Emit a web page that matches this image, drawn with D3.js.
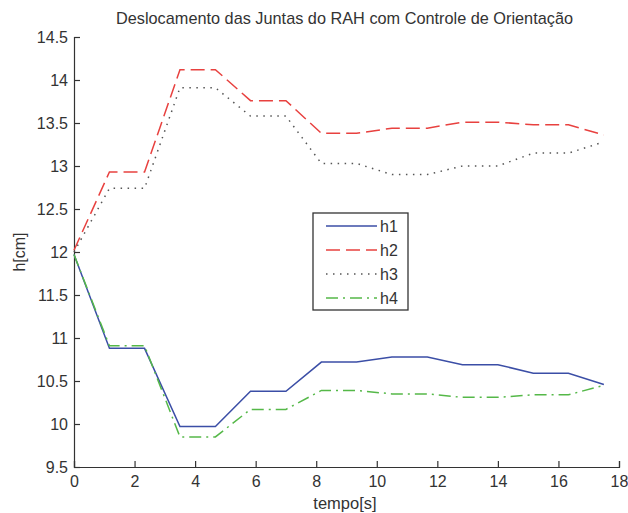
<!DOCTYPE html>
<html>
<head>
<meta charset="utf-8">
<script src="https://cdn.jsdelivr.net/npm/d3@7"></script>
<style>
  body { margin: 0; background: #fff; }
  text { font-family: "Liberation Sans", Arial, sans-serif; fill: #333; }
</style>
</head>
<body>
<div id="chart"></div>
<script>
// time samples (s), one every 7/6 s
var tempo = [0, 1.17, 2.33, 3.5, 4.67, 5.83, 7.0, 8.17, 9.33, 10.5, 11.67, 12.83, 14.0, 15.17, 16.33, 17.5];
var h1 = [11.97, 10.88, 10.88, 9.97, 9.97, 10.38, 10.38, 10.72, 10.72, 10.78, 10.78, 10.69, 10.69, 10.59, 10.59, 10.46];
var h2 = [12.02, 12.93, 12.93, 14.12, 14.12, 13.76, 13.76, 13.38, 13.38, 13.44, 13.44, 13.51, 13.51, 13.48, 13.48, 13.36];
var h3 = [12.0, 12.74, 12.74, 13.91, 13.91, 13.58, 13.58, 13.03, 13.03, 12.90, 12.90, 13.0, 13.0, 13.15, 13.15, 13.28];
var h4 = [11.97, 10.91, 10.91, 9.85, 9.85, 10.17, 10.17, 10.39, 10.39, 10.35, 10.35, 10.31, 10.31, 10.34, 10.34, 10.45];
var names = ["h1", "h2", "h3", "h4"];
var xTicks = [0, 2, 4, 6, 8, 10, 12, 14, 16, 18];
var yTicks = [9.5, 10, 10.5, 11, 11.5, 12, 12.5, 13, 13.5, 14, 14.5];

var series = [h1, h2, h3, h4];
var colors = ["#3b4ea6", "#e8413f", "#555555", "#55b848"];
var dashes = [null, "14,6", "1.5,5.5", "12,5,2,5"];

var width = 628, height = 513;
var pLeft = 74, pRight = 619, pTop = 37, pBottom = 467;

var svg = d3.select("#chart").append("svg")
    .attr("width", width)
    .attr("height", height);

var x = d3.scaleLinear().domain([0, 18]).range([pLeft, pRight]);
var y = d3.scaleLinear().domain([9.5, 14.5]).range([pBottom, pTop]);

// axes, ticks pointing inward like matlab
var xAxis = svg.append("g")
    .attr("transform", "translate(0," + pBottom + ")")
    .call(d3.axisBottom(x).tickValues(xTicks).tickSize(-6).tickPadding(6).tickFormat(d3.format("d")));
var yAxis = svg.append("g")
    .attr("transform", "translate(" + pLeft + ",0)")
    .call(d3.axisLeft(y).tickValues(yTicks).tickSize(-6).tickPadding(6).tickFormat(function(d) { return d; }));

[xAxis, yAxis].forEach(function(a) {
  a.select(".domain").attr("stroke", "#333").attr("stroke-width", 1.2);
  a.selectAll(".tick line").attr("stroke", "#333").attr("stroke-width", 1.2);
  a.selectAll(".tick text").style("font-size", "16px").attr("fill", "#333")
    .style("font-family", "Liberation Sans, Arial, sans-serif");
});
xAxis.selectAll(".tick text").attr("dy", "0.9em");

var line = d3.line()
    .x(function(d, i) { return x(tempo[i]); })
    .y(function(d) { return y(d); });

svg.selectAll(".serie")
    .data(series)
    .enter().append("path")
    .attr("class", "serie")
    .attr("d", line)
    .attr("fill", "none")
    .attr("stroke", function(d, i) { return colors[i]; })
    .attr("stroke-width", 1.5)
    .attr("stroke-dasharray", function(d, i) { return dashes[i]; });

// title and labels
svg.append("text")
    .attr("x", 344.5)
    .attr("y", 24)
    .attr("text-anchor", "middle")
    .attr("textLength", 457)
    .attr("lengthAdjust", "spacingAndGlyphs")
    .style("font-size", "15.7px")
    .text("Deslocamento das Juntas do RAH com Controle de Orientação");

svg.append("text")
    .attr("x", 345)
    .attr("y", 509)
    .attr("text-anchor", "middle")
    .style("font-size", "16.5px")
    .text("tempo[s]");

svg.append("text")
    .attr("transform", "translate(25," + y(12) + ") rotate(-90)")
    .attr("text-anchor", "middle")
    .style("font-size", "16px")
    .text("h[cm]");

// legend
var legend = svg.append("g");
legend.append("rect")
    .attr("x", 313).attr("y", 213)
    .attr("width", 95).attr("height", 97)
    .attr("fill", "#fff")
    .attr("stroke", "#333")
    .attr("stroke-width", 1.3);

var rows = legend.selectAll(".row")
    .data(names)
    .enter().append("g")
    .attr("transform", function(d, i) { return "translate(0," + (226 + i * 24) + ")"; });

rows.append("line")
    .attr("x1", 326).attr("x2", 377)
    .attr("stroke", function(d, i) { return colors[i]; })
    .attr("stroke-width", 1.5)
    .attr("stroke-dasharray", function(d, i) { return dashes[i]; });

rows.append("text")
    .attr("x", 380)
    .attr("dy", "0.35em")
    .style("font-size", "16px")
    .text(function(d) { return d; });
</script>
</body>
</html>
